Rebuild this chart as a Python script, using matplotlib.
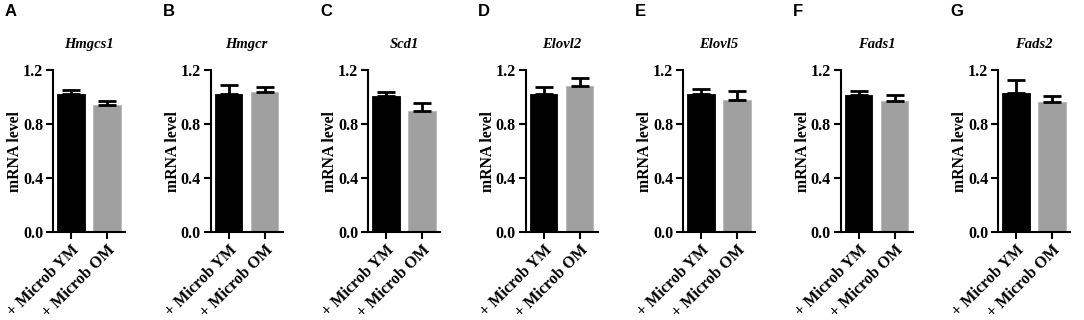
import matplotlib
matplotlib.use("Agg")
import matplotlib.pyplot as plt

# values
genes   = ["Hmgcs1", "Hmgcr", "Scd1", "Elovl2", "Elovl5", "Fads1", "Fads2"]
letters = ["A", "B", "C", "D", "E", "F", "G"]
groups  = ["+ Microb YM", "+ Microb OM"]

ym_mean = [1.02, 1.02, 1.01, 1.02, 1.02, 1.015, 1.03]
ym_err  = [0.032, 0.067, 0.026, 0.051, 0.039, 0.028, 0.096]
om_mean = [0.94, 1.035, 0.90, 1.08, 0.98, 0.972, 0.96]
om_err  = [0.029, 0.039, 0.054, 0.061, 0.061, 0.044, 0.05]

bar_colors = ["#000000", "#a0a0a0"]
yticks = [0.0, 0.4, 0.8, 1.2]

serif = "Liberation Serif"
sans = "Liberation Sans"

fig = plt.figure(figsize=(10.84, 3.2), dpi=100)

W, H = 1084, 320
ax_left0 = 53        # px of first y-axis
ax_step = 157.5      # px between panels
ax_w = 72
ax_bottom = 232
ax_top = 70

for i, gene in enumerate(genes):
    x0 = ax_left0 + i * ax_step
    ax = fig.add_axes([x0 / W, 1 - ax_bottom / H, ax_w / W, (ax_bottom - ax_top) / H])
    means = [ym_mean[i], om_mean[i]]
    errs = [ym_err[i], om_err[i]]
    for j in range(2):
        ax.bar(j, means[j], width=0.76, color=bar_colors[j],
               edgecolor="#b8b8b8" if j == 1 else "black", linewidth=0.6, zorder=2)
        ax.errorbar(j, means[j], yerr=[[0], [errs[j]]], fmt="none",
                    ecolor="black", elinewidth=2, capsize=6.5, capthick=2, zorder=3)
    ax.set_xlim(-0.5, 1.5)
    ax.set_ylim(0, 1.2)
    ax.set_yticks(yticks)
    ax.set_yticklabels([f"{t:.1f}" for t in yticks], fontfamily=serif,
                       fontweight="bold", fontsize=11.5)
    ax.set_xticks([0, 1])
    ax.set_xticklabels(groups, rotation=45, ha="right", rotation_mode="anchor",
                       fontfamily=serif, fontweight="bold", fontsize=11.5)
    ax.tick_params(axis="both", width=1.5, length=5, color="black", pad=2)
    ax.spines["top"].set_visible(False)
    ax.spines["right"].set_visible(False)
    ax.spines["left"].set_linewidth(1.5)
    ax.spines["bottom"].set_linewidth(1.5)
    ax.set_ylabel("mRNA level", fontfamily=serif, fontweight="bold", fontsize=11.3,
                  labelpad=0)
    ax.set_title(gene, fontfamily=serif, fontweight="bold", fontstyle="italic",
                 fontsize=10.5, pad=16)
    fig.text((x0 - 48) / W, 1 - 12 / H, letters[i], fontfamily=sans,
             fontweight="bold", fontsize=12, va="center", ha="left")

fig.savefig("out.png", dpi=100)
